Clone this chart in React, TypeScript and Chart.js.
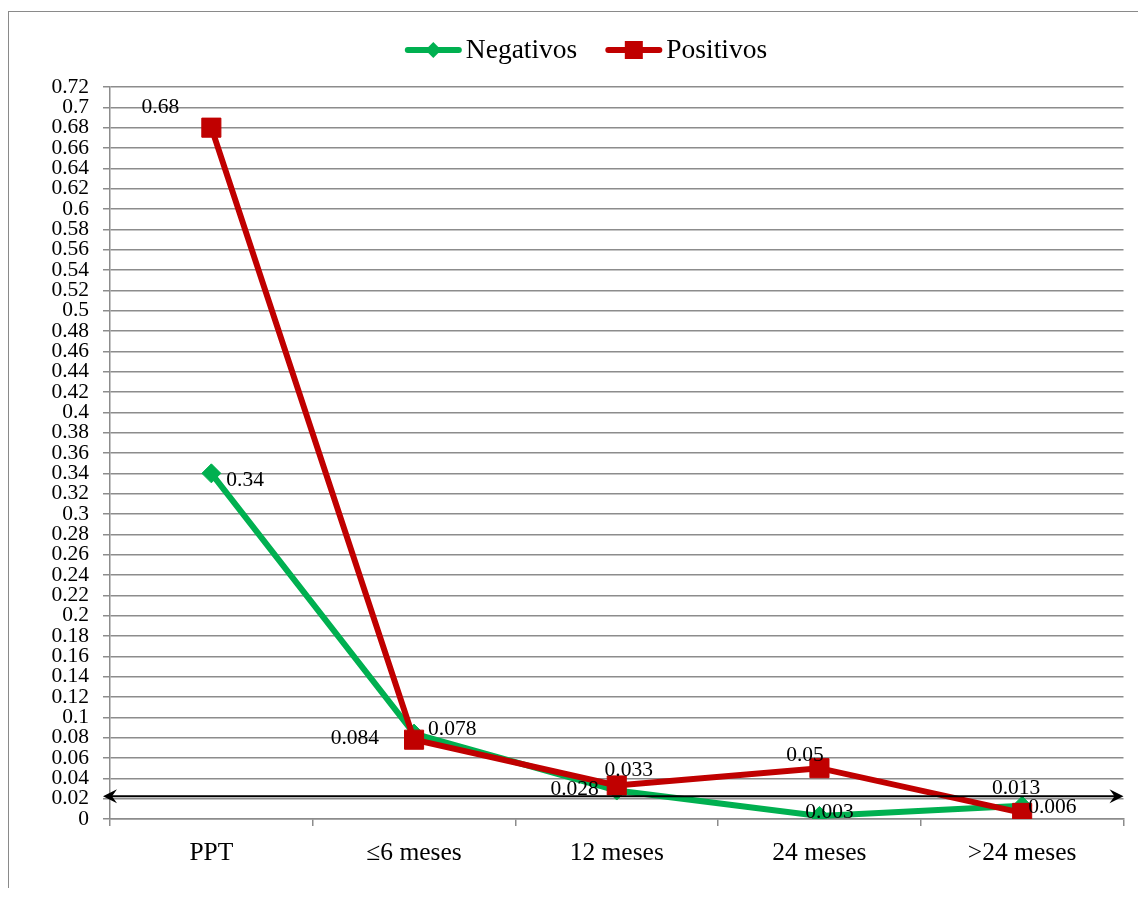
import { useEffect, useRef } from "react";
import { Chart, registerables } from "chart.js";

Chart.register(...registerables);

// Data
const categories = ["PPT", "≤6 meses", "12 meses", "24 meses", ">24 meses"];
const negativos = [0.34, 0.084, 0.028, 0.003, 0.013];
const positivos = [0.68, 0.078, 0.033, 0.05, 0.006];
const seriesNames = ["Negativos", "Positivos"];

// Axis range
const yMin = 0;
const yMax = 0.72;
const yStep = 0.02;

// Level of the double-headed reference arrow
const arrowLevel = 0.0225;

// Where each value label sits relative to its point: [dx, dy, align]
type Placement = [number, number, CanvasTextAlign];
const negLabelPlacement: Placement[] = [
  [15, 7, "left"],
  [-35, 5, "right"],
  [-18, -1, "right"],
  [10, -3.5, "center"],
  [-6, -17, "center"],
];
const posLabelPlacement: Placement[] = [
  [-51, -20, "center"],
  [14, -10, "left"],
  [12, -15, "center"],
  [-14.5, -13, "center"],
  [6, -6, "left"],
];

const FONT = "'Liberation Serif', 'Times New Roman', serif";
const GREEN = "#00b050";
const RED = "#c00000";
const GRID = "#8c8c8c";

const fmt = (v: number) => String(Math.round(v * 1000) / 1000);

function drawDiamond(ctx: CanvasRenderingContext2D, x: number, y: number, r: number, color: string) {
  ctx.beginPath();
  ctx.moveTo(x, y - r);
  ctx.lineTo(x + r, y);
  ctx.lineTo(x, y + r);
  ctx.lineTo(x - r, y);
  ctx.closePath();
  ctx.fillStyle = color;
  ctx.fill();
}

function drawArrowHead(ctx: CanvasRenderingContext2D, tipX: number, y: number, dir: number) {
  ctx.beginPath();
  ctx.moveTo(tipX, y);
  ctx.lineTo(tipX - dir * 14, y - 7);
  ctx.lineTo(tipX - dir * 9, y);
  ctx.lineTo(tipX - dir * 14, y + 7);
  ctx.closePath();
  ctx.fillStyle = "#000";
  ctx.fill();
}

const overlayPlugin = {
  id: "overlay",
  afterDatasetsDraw(chart: any) {
    const ctx: CanvasRenderingContext2D = chart.ctx;
    const area = chart.chartArea;
    const yScale = chart.scales.y;

    // Reference arrow
    const ay = yScale.getPixelForValue(arrowLevel);
    const x0 = area.left - 7;
    const x1 = area.right;
    ctx.save();
    ctx.strokeStyle = "#000";
    ctx.lineWidth = 2;
    ctx.beginPath();
    ctx.moveTo(x0 + 8, ay);
    ctx.lineTo(x1 - 8, ay);
    ctx.stroke();
    drawArrowHead(ctx, x0, ay, -1);
    drawArrowHead(ctx, x1, ay, 1);
    ctx.restore();

    // Value labels
    ctx.save();
    ctx.font = `21.5px ${FONT}`;
    ctx.fillStyle = "#000";
    ctx.textBaseline = "middle";
    const sets: [number[], Placement[], number][] = [
      [negativos, negLabelPlacement, 0],
      [positivos, posLabelPlacement, 1],
    ];
    sets.forEach(([values, placement, di]) => {
      const meta = chart.getDatasetMeta(di);
      values.forEach((v, i) => {
        const pt = meta.data[i];
        const [dx, dy, align] = placement[i];
        ctx.textAlign = align;
        ctx.fillText(fmt(v), pt.x + dx, pt.y + dy);
      });
    });
    ctx.restore();
  },
  afterDraw(chart: any) {
    // Legend: line sample with marker, followed by series name
    const ctx: CanvasRenderingContext2D = chart.ctx;
    ctx.save();
    ctx.font = `27.5px ${FONT}`;
    const sample = 57;
    const gapText = 4;
    const gapItems = 28;
    const widths = seriesNames.map((n) => sample + gapText + ctx.measureText(n).width);
    const total = widths[0] + widths[1] + gapItems;
    let x = chart.width / 2 + 13 - total / 2;
    const y = 42;
    const colors = [GREEN, RED];
    seriesNames.forEach((name, i) => {
      ctx.strokeStyle = colors[i];
      ctx.lineWidth = 6;
      ctx.lineCap = "round";
      ctx.beginPath();
      ctx.moveTo(x + 3, y);
      ctx.lineTo(x + sample - 3, y);
      ctx.stroke();
      const cx = x + sample / 2;
      if (i === 0) {
        drawDiamond(ctx, cx, y, 8, GREEN);
      } else {
        ctx.fillStyle = RED;
        ctx.fillRect(cx - 9, y - 9, 18, 18);
      }
      ctx.fillStyle = "#000";
      ctx.textAlign = "left";
      ctx.textBaseline = "middle";
      ctx.fillText(name, x + sample + gapText, y + 1);
      x += widths[i] + gapItems;
    });
    ctx.restore();
  },
};

export default function App() {
  const ref = useRef<HTMLCanvasElement | null>(null);

  useEffect(() => {
    if (!ref.current) return;
    const chart = new Chart(ref.current, {
      type: "line",
      data: {
        labels: categories,
        datasets: [
          {
            label: seriesNames[0],
            data: negativos,
            borderColor: GREEN,
            backgroundColor: GREEN,
            borderWidth: 6,
            pointStyle: "rectRot",
            pointRadius: 9.5,
            pointBorderWidth: 1,
            pointBorderColor: GREEN,
            pointBackgroundColor: GREEN,
            tension: 0,
            order: 2,
          },
          {
            label: seriesNames[1],
            data: positivos,
            borderColor: RED,
            backgroundColor: RED,
            borderWidth: 6,
            pointStyle: "rect",
            pointRadius: 13.5,
            pointBorderWidth: 1,
            pointBorderColor: RED,
            pointBackgroundColor: RED,
            tension: 0,
            order: 1,
          },
        ],
      },
      options: {
        responsive: false,
        animation: false,
        layout: { padding: { top: 79, right: 12, left: 0, bottom: 0 } },
        plugins: {
          legend: { display: false },
          tooltip: { enabled: false },
          title: { display: false },
        },
        scales: {
          x: {
            type: "category",
            offset: true,
            grid: {
              offset: true,
              drawOnChartArea: false,
              drawTicks: true,
              tickLength: 7,
              color: GRID,
              lineWidth: 1.5,
            },
            border: { display: true, color: GRID, width: 1.5 },
            ticks: {
              color: "#000",
              font: { family: FONT, size: 25.5 },
              padding: 12,
              maxRotation: 0,
              autoSkip: false,
            },
            afterFit: (scale: any) => {
              scale.height = 69;
            },
          },
          y: {
            type: "linear",
            min: yMin,
            max: yMax,
            grid: {
              color: GRID,
              lineWidth: 1.5,
              drawTicks: true,
              tickLength: 7,
            },
            border: { display: true, color: GRID, width: 1.5 },
            ticks: {
              stepSize: yStep,
              maxTicksLimit: 100,
              autoSkip: false,
              color: "#000",
              font: { family: FONT, size: 21.5, lineHeight: 1 },
              padding: 14,
              callback: (v: any) => String(Math.round(Number(v) * 100) / 100),
            },
            afterFit: (scale: any) => {
              scale.width = 102;
            },
          },
        },
      },
      plugins: [overlayPlugin],
    } as any);
    return () => chart.destroy();
  }, []);

  return (
    <div style={{ position: "relative", width: 1130, height: 880, overflow: "hidden" }}>
      <div
        style={{
          position: "absolute",
          left: 0,
          top: 3,
          width: 1300,
          height: 1000,
          borderLeft: "1px solid #8a8a8a",
          borderTop: "1px solid #8a8a8a",
        }}
      />
      <canvas
        ref={ref}
        width={1130}
        height={880}
        style={{ position: "absolute", left: 0, top: 0, width: 1130, height: 880 }}
      />
    </div>
  );
}
